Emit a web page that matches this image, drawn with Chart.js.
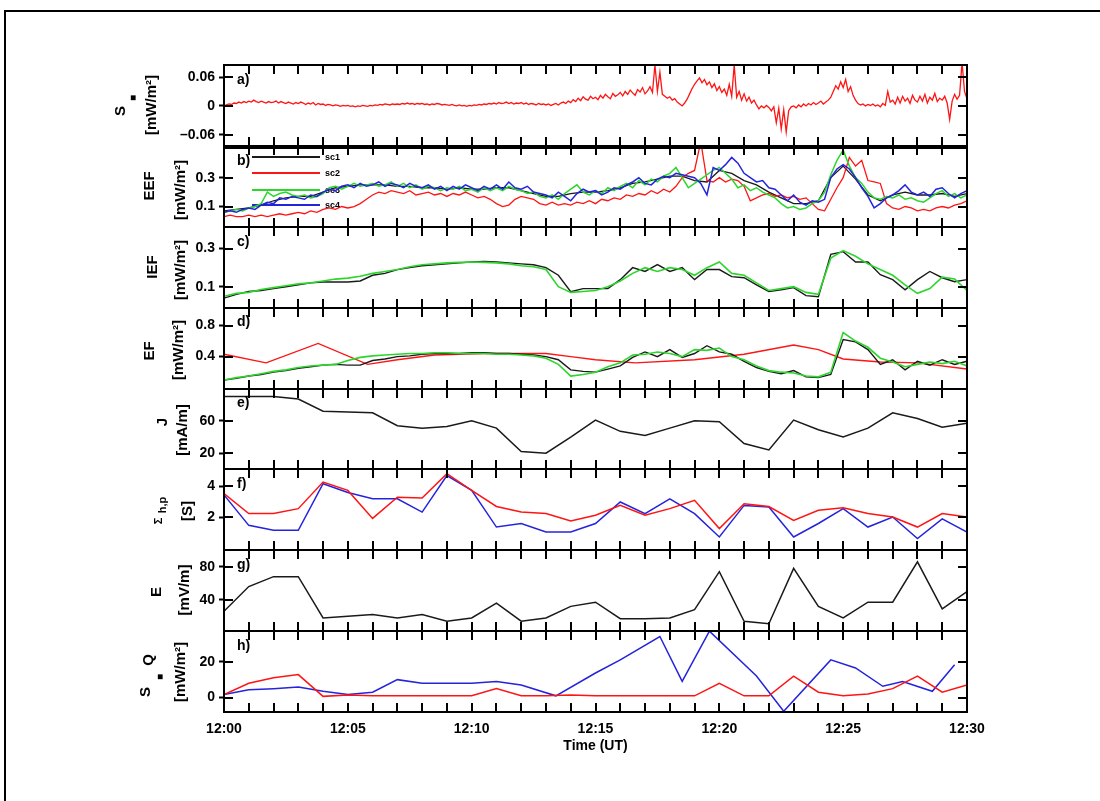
<!DOCTYPE html>
<html>
<head>
<meta charset="utf-8">
<script src="https://cdn.jsdelivr.net/npm/chart.js@4.4.1/dist/chart.umd.min.js"></script>
<style>
  html, body { margin: 0; padding: 0; background: #fff; }
  #wrap { position: relative; width: 1100px; height: 801px; overflow: hidden; }
  #frame { position: absolute; left: 4px; top: 10px; width: 1200px; height: 900px; border-top: 2px solid #000; border-left: 2px solid #000; }
  #chart, #ticks { position: absolute; left: 0; top: 0; }
  #ticks { pointer-events: none; }
</style>
</head>
<body>
<div id="wrap">
  <div id="frame"></div>
  <canvas id="chart" width="1100" height="801"></canvas>
  <canvas id="ticks" width="1100" height="801"></canvas>
</div>
<script>
// time axis (minutes after 12:00)
const timeTickValues = [0, 5, 10, 15, 20, 25, 30]
const timeTickLabels = ['12:00', '12:05', '12:10', '12:15', '12:20', '12:25', '12:30']

// a) field-aligned Poynting flux, one sample every 0.1 min
const A_STEP = 0.1
const poyntingA = [
  0.000, 0.002, 0.004, 0.003, 0.006, 0.005, 0.008, 0.006, 0.009, 0.007,
  0.010, 0.008, 0.012, 0.009, 0.007, 0.010, 0.008, 0.006, 0.009, 0.007,
  0.008, 0.010, 0.006, 0.009, 0.007, 0.005, 0.008, 0.006, 0.004, 0.007,
  0.005, 0.008, 0.006, 0.003, 0.006, 0.004, 0.007, 0.002, 0.005, 0.003,
  0.004, 0.001, 0.003, 0.002, 0.000, 0.002, 0.001, -0.001, 0.001, 0.000,
  0.001, -0.001, 0.000, -0.002, 0.000, -0.001, 0.001, 0.000, -0.001, 0.001,
  0.000, 0.002, 0.001, 0.003, 0.002, 0.004, 0.003, 0.002, 0.004, 0.003,
  0.004, 0.003, 0.005, 0.004, 0.006, 0.004, 0.005, 0.003, 0.005, 0.004,
  0.005, 0.003, 0.004, 0.002, 0.004, 0.003, 0.005, 0.004, 0.002, 0.003,
  0.002, 0.001, 0.003, 0.001, 0.000, 0.002, 0.000, 0.001, -0.001, 0.001,
  0.000, 0.002, 0.001, 0.003, 0.002, 0.004, 0.003, 0.005, 0.004, 0.006,
  0.004, 0.007, 0.005, 0.006, 0.008, 0.005, 0.007, 0.004, 0.006, 0.005,
  0.007, 0.004, 0.006, 0.003, 0.005, 0.004, 0.002, 0.005, 0.003, 0.004,
  0.002, 0.004, 0.001, 0.003, 0.005, 0.002, 0.006, 0.008, 0.005, 0.010,
  0.007, 0.013, 0.009, 0.016, 0.011, 0.019, 0.014, 0.012, 0.020, 0.015,
  0.018, 0.013, 0.022, 0.016, 0.024, 0.019, 0.015, 0.026, 0.020, 0.023,
  0.028, 0.021, 0.030, 0.024, 0.033, 0.027, 0.022, 0.034, 0.029, 0.038,
  0.025, 0.031, 0.040, 0.028, 0.085, 0.030, 0.070, 0.024, 0.020, 0.016,
  0.019, 0.012, 0.015, 0.008, 0.004, 0.000, 0.006, 0.014, 0.025, 0.036,
  0.045, 0.052, 0.058, 0.048, 0.055, 0.044, 0.050, 0.038, 0.046, 0.032,
  0.040, 0.028, 0.035, 0.022, 0.045, 0.020, 0.085, 0.018, 0.030, 0.012,
  0.025, 0.010, 0.018, 0.006, 0.012, 0.002, -0.006, 0.000, -0.004, 0.001,
  -0.003, -0.010, -0.002, -0.035, -0.005, -0.048, -0.008, -0.054, -0.010, -0.002,
  0.000, -0.004, 0.002, -0.002, 0.004, 0.000, 0.005, 0.002, 0.007, 0.003,
  0.006, 0.010, 0.004, 0.008, 0.012, 0.018, 0.030, 0.042, 0.035, 0.050,
  0.038, 0.055, 0.030, 0.040, 0.022, 0.012, 0.005, 0.002, 0.004, 0.000,
  0.003, 0.001, 0.004, 0.000, 0.002, -0.002, 0.005, 0.001, 0.030, 0.008,
  0.012, 0.004, 0.018, 0.006, 0.020, 0.010, 0.016, 0.005, 0.022, 0.012,
  0.008, 0.020, 0.010, 0.024, 0.006, 0.018, 0.012, 0.026, 0.009, 0.016,
  0.012, 0.020, 0.006, -0.028, 0.010, 0.024, 0.014, 0.022, 0.090, 0.030,
  0.015
]

// b) EEF for sc1..sc4
const B_STEP = 0.25
const eefSc2 = [
  0.03, 0.04, 0.03, 0.03, 0.04, 0.03, 0.04, 0.03, 0.04, 0.05, 0.04, 0.05,
  0.06, 0.05, 0.07, 0.06, 0.08, 0.09, 0.08, 0.10, 0.09, 0.10, 0.12, 0.15,
  0.18, 0.20, 0.19, 0.21, 0.20, 0.19, 0.21, 0.18, 0.19, 0.20, 0.18, 0.19,
  0.17, 0.19, 0.18, 0.20, 0.18, 0.16, 0.17, 0.15, 0.12, 0.10, 0.11, 0.15,
  0.17, 0.16, 0.15, 0.12, 0.11, 0.13, 0.11, 0.12, 0.11, 0.13, 0.12, 0.14,
  0.12, 0.15, 0.14, 0.16, 0.15, 0.18, 0.17, 0.19, 0.18, 0.21, 0.19, 0.22,
  0.20, 0.24, 0.30, 0.33, 0.35, 0.55, 0.28, 0.27, 0.30, 0.27, 0.29, 0.28,
  0.24, 0.14, 0.16, 0.18, 0.19, 0.17, 0.18, 0.16, 0.17, 0.15, 0.16, 0.12,
  0.08, 0.07, 0.15, 0.23, 0.30, 0.44, 0.38, 0.42, 0.28, 0.27, 0.26, 0.12,
  0.09, 0.08, 0.10, 0.09, 0.07, 0.08, 0.07, 0.09, 0.10, 0.09, 0.11, 0.12,
  0.14
]
const eefSc3 = [
  0.06, 0.07, 0.08, 0.07, 0.09, 0.10, 0.12, 0.20, 0.17, 0.19, 0.20, 0.18,
  0.17, 0.18, 0.16, 0.17, 0.19, 0.23, 0.24, 0.22, 0.24, 0.26, 0.24, 0.25,
  0.26, 0.24, 0.25, 0.27, 0.24, 0.26, 0.23, 0.25, 0.22, 0.24, 0.23, 0.21,
  0.23, 0.22, 0.24, 0.21, 0.22, 0.20, 0.23, 0.21, 0.23, 0.21, 0.24, 0.22,
  0.21, 0.19, 0.20, 0.17, 0.16, 0.18, 0.15, 0.19, 0.22, 0.25, 0.20, 0.18,
  0.21, 0.19, 0.23, 0.21, 0.24, 0.26, 0.23, 0.28, 0.25, 0.29, 0.27, 0.31,
  0.33, 0.37, 0.30, 0.23, 0.26, 0.29, 0.32, 0.35, 0.37, 0.33, 0.29, 0.23,
  0.25, 0.21, 0.23, 0.20, 0.18, 0.16, 0.12, 0.09, 0.10, 0.08, 0.09, 0.12,
  0.14, 0.20, 0.32, 0.42, 0.49, 0.38, 0.30, 0.26, 0.20, 0.16, 0.15, 0.17,
  0.16, 0.18, 0.15, 0.16, 0.14, 0.13, 0.16, 0.19, 0.21, 0.17, 0.19, 0.16,
  0.18
]
const eefSc4 = [
  0.06, 0.07, 0.06, 0.08, 0.09, 0.08, 0.11, 0.13, 0.12, 0.16, 0.15, 0.17,
  0.16, 0.15, 0.18, 0.17, 0.20, 0.22, 0.21, 0.24, 0.25, 0.23, 0.26, 0.24,
  0.25, 0.27, 0.24, 0.26, 0.25, 0.23, 0.26, 0.24, 0.23, 0.25, 0.22, 0.24,
  0.21, 0.24, 0.22, 0.25, 0.23, 0.21, 0.24, 0.22, 0.25, 0.22, 0.27, 0.23,
  0.22, 0.24, 0.20, 0.19, 0.18, 0.16, 0.20, 0.17, 0.14, 0.19, 0.22, 0.20,
  0.21, 0.18, 0.20, 0.23, 0.22, 0.25, 0.27, 0.30, 0.26, 0.25, 0.29, 0.31,
  0.30, 0.33, 0.32, 0.31, 0.30, 0.26, 0.18, 0.37, 0.35, 0.39, 0.44, 0.40,
  0.33, 0.30, 0.27, 0.28, 0.23, 0.22, 0.18, 0.14, 0.18, 0.13, 0.11, 0.14,
  0.13, 0.15, 0.30, 0.36, 0.39, 0.36, 0.30, 0.23, 0.17, 0.09, 0.12, 0.16,
  0.18, 0.21, 0.25, 0.20, 0.18, 0.20, 0.17, 0.22, 0.23, 0.19, 0.16, 0.19,
  0.21
]
const HALF_STEP = 0.5
const eefSc1 = [
  0.07, 0.08, 0.09, 0.11, 0.14, 0.16, 0.17, 0.17, 0.20, 0.23, 0.24, 0.25,
  0.25, 0.25, 0.24, 0.24, 0.23, 0.23, 0.22, 0.23, 0.22, 0.22, 0.23, 0.23,
  0.21, 0.19, 0.17, 0.17, 0.19, 0.20, 0.20, 0.21, 0.23, 0.26, 0.27, 0.29,
  0.31, 0.31, 0.28, 0.27, 0.35, 0.33, 0.28, 0.25, 0.20, 0.16, 0.12, 0.12,
  0.14, 0.30, 0.38, 0.29, 0.18, 0.14, 0.18, 0.20, 0.18, 0.18, 0.19, 0.17,
  0.19
]

// c) IEF, d) EF (every 0.5 min)
const iefSc1 = [
  0.04, 0.06, 0.075, 0.08, 0.09, 0.10, 0.11, 0.12, 0.125, 0.125, 0.125, 0.13,
  0.16, 0.17, 0.19, 0.20, 0.21, 0.215, 0.22, 0.225, 0.23, 0.232, 0.23, 0.225,
  0.22, 0.215, 0.20, 0.16, 0.074, 0.09, 0.09, 0.09, 0.137, 0.2, 0.18, 0.216,
  0.18, 0.2, 0.137, 0.19, 0.19, 0.153, 0.147, 0.11, 0.074, 0.084, 0.095, 0.053,
  0.047, 0.27, 0.284, 0.23, 0.23, 0.163, 0.137, 0.084, 0.137, 0.18, 0.147, 0.126,
  0.137
]
const iefSc3 = [
  0.05, 0.065, 0.07, 0.085, 0.095, 0.105, 0.115, 0.12, 0.13, 0.14, 0.145, 0.155,
  0.17, 0.18, 0.19, 0.205, 0.215, 0.22, 0.225, 0.228, 0.23, 0.228, 0.225, 0.22,
  0.21, 0.205, 0.19, 0.1, 0.07, 0.075, 0.08, 0.1, 0.13, 0.17, 0.2, 0.18,
  0.2, 0.19, 0.16, 0.2, 0.23, 0.17, 0.16, 0.12, 0.08, 0.09, 0.1, 0.07,
  0.06, 0.25, 0.29, 0.26, 0.22, 0.19, 0.16, 0.11, 0.065, 0.09, 0.15, 0.14,
  0.08
]
const efSc1 = [
  0.10, 0.12, 0.15, 0.17, 0.20, 0.22, 0.25, 0.27, 0.29, 0.30, 0.29, 0.29,
  0.35, 0.37, 0.40, 0.41, 0.43, 0.44, 0.44, 0.44, 0.45, 0.45, 0.44, 0.44,
  0.43, 0.42, 0.40, 0.36, 0.23, 0.21, 0.20, 0.24, 0.28, 0.39, 0.46, 0.40,
  0.49, 0.39, 0.44, 0.54, 0.46, 0.43, 0.34, 0.26, 0.21, 0.18, 0.22, 0.14,
  0.13, 0.17, 0.62, 0.59, 0.49, 0.30, 0.36, 0.23, 0.34, 0.29, 0.36, 0.30,
  0.34
]
const efSc3 = [
  0.10, 0.13, 0.15, 0.18, 0.21, 0.23, 0.26, 0.28, 0.29, 0.30, 0.35, 0.39,
  0.41, 0.42, 0.43, 0.44, 0.44, 0.45, 0.45, 0.44, 0.44, 0.44, 0.43, 0.43,
  0.42, 0.41, 0.38, 0.30, 0.15, 0.17, 0.20, 0.27, 0.32, 0.42, 0.43, 0.46,
  0.44, 0.40, 0.49, 0.48, 0.51, 0.40, 0.36, 0.28, 0.22, 0.20, 0.19, 0.15,
  0.14, 0.20, 0.71, 0.60, 0.52, 0.38, 0.33, 0.27, 0.30, 0.33, 0.31, 0.34,
  0.28
]
const efModelTimes = [0, 1.7, 3.8, 5.8, 7, 8.5, 10.5, 13, 14, 15, 16.6, 19, 21, 23, 24, 25, 26.5, 28, 30]
const efModel = [0.43, 0.32, 0.57, 0.30, 0.36, 0.42, 0.44, 0.44, 0.40, 0.36, 0.32, 0.36, 0.43, 0.55, 0.49, 0.37, 0.33, 0.32, 0.24]

// e) - h) one value per minute unless times given
const MIN_STEP = 1
const currentJ = [90, 90, 90, 87, 72, 71, 70, 54, 51, 53, 60, 51, 22, 20, 40, 61, 47, 42, 51, 60, 59, 32, 24, 61, 49, 40, 51, 70, 63, 52, 57]
const sigmaP = [3.53, 2.24, 2.24, 2.56, 4.28, 3.74, 1.93, 3.3, 3.25, 4.82, 3.74, 2.7, 2.34, 2.24, 1.76, 2.13, 2.77, 2.13, 2.56, 3.1, 1.27, 2.88, 2.7, 1.8, 2.45, 2.62, 2.24, 2.02, 1.37, 2.24, 2.02]
const sigmaH = [3.45, 1.48, 1.16, 1.16, 4.17, 3.6, 3.2, 3.2, 2.34, 4.7, 3.74, 1.37, 1.6, 1.05, 1.05, 1.6, 2.99, 2.24, 3.2, 2.24, 0.73, 2.77, 2.67, 0.73, 1.6, 2.56, 1.37, 2.02, 0.63, 1.9, 1.05]
const fieldE = [26, 56, 68, 68, 18, 20, 22, 18, 22, 14, 18, 36, 14, 18, 32, 37, 17, 17, 18, 28, 74, 14, 11, 78, 32, 18, 37, 37, 86, 29, 50]
const jouleRed = [1.7, 8, 11, 12.8, 0.7, 1.5, 1, 1, 1, 1, 1, 5, 1, 1, 1.5, 1, 1, 1, 1, 1, 8, 1, 1, 12, 3, 1, 2, 5, 12, 3, 7]
const poyntingQTimes = [0, 1, 2, 3, 4, 5, 6, 7, 8, 9, 10, 11, 12, 13.4, 15, 16, 17.6, 18.5, 19.6, 21.5, 22.6, 24.5, 25.5, 26.6, 27.4, 28.6, 29.5]
const poyntingQ = [1.7, 4.4, 5, 5.9, 3.5, 1.7, 3, 10, 8, 8, 8, 9, 7, 1, 13.7, 21, 34, 9, 37, 12, -7.6, 21, 16.5, 6.3, 9, 3.5, 18.3]

// tick values and labels per panel
const aTicks = [0.06, 0, -0.06], aTickLabels = ['0.06', '0', '\u20130.06']
const bTicks = [0.3, 0.1], bTickLabels = ['0.3', '0.1']
const cTicks = [0.3, 0.1], cTickLabels = ['0.3', '0.1']
const dTicks = [0.8, 0.4], dTickLabels = ['0.8', '0.4']
const eTicks = [60, 20], eTickLabels = ['60', '20']
const fTicks = [4, 2], fTickLabels = ['4', '2']
const gTicks = [80, 40], gTickLabels = ['80', '40']
const hTicks = [20, 0], hTickLabels = ['20', '0']

const legendNames = ['sc1', 'sc2', 'sc3', 'sc4']

const RED = '#ff1414'
const BLUE = '#2424dc'
const GREEN = '#2cd62c'
const BLACK = '#1a1a1a'
const FONT = '"Liberation Sans", Arial, sans-serif'

const gridSeries = (vals, step) => vals.map((v, i) => ({ x: i * step, y: v }))
const pairSeries = (ts, vals) => ts.map((t, i) => ({ x: t, y: vals[i] }))

const panels = [
  { id: 'ya', min: -0.083, max: 0.085, tickVals: aTicks, labels: aTickLabels, letter: 'a)' },
  { id: 'yb', min: -0.04, max: 0.52, tickVals: bTicks, labels: bTickLabels, letter: 'b)' },
  { id: 'yc', min: -0.01, max: 0.415, tickVals: cTicks, labels: cTickLabels, letter: 'c)' },
  { id: 'yd', min: -0.01, max: 1.03, tickVals: dTicks, labels: dTickLabels, letter: 'd)' },
  { id: 'ye', min: 0, max: 100, tickVals: eTicks, labels: eTickLabels, letter: 'e)' },
  { id: 'yf', min: -0.13, max: 5.1, tickVals: fTicks, labels: fTickLabels, letter: 'f)' },
  { id: 'yg', min: 2, max: 100, tickVals: gTicks, labels: gTickLabels, letter: 'g)' },
  { id: 'yh', min: -8, max: 37, tickVals: hTicks, labels: hTickLabels, letter: 'h)' }
]

// rotated axis titles: [text, x, y, size]
const axisTitles = [
  ['S', 121, 111, 15], ['\u25A0', 133, 98, 10], ['[mW/m\u00B2]', 152, 105, 15],
  ['EEF', 150, 186, 15], ['[mW/m\u00B2]', 181, 190, 15],
  ['IEF', 153, 267, 15], ['[mW/m\u00B2]', 181, 270, 15],
  ['EF', 150, 351, 15], ['[mW/m\u00B2]', 179, 350, 15],
  ['J', 163, 422, 15], ['[mA/m]', 183, 430, 15],
  ['\u03A3', 159, 521, 11], ['h,p', 163, 505, 11], ['[S]', 188, 511, 15],
  ['E', 157, 592, 15], ['[mV/m]', 185, 590, 15],
  ['S', 146, 692, 15], ['\u25A0', 160, 677, 10], ['Q', 149, 660, 15], ['[mW/m\u00B2]', 181, 672, 15]
]

const series = (yAxisID, data, color, width, order) => ({
  yAxisID, data, borderColor: color, borderWidth: width, pointRadius: 0, tension: 0, fill: false, order
})

const datasets = [
  series('ya', gridSeries(poyntingA, A_STEP), RED, 1.3, 0),
  series('yb', gridSeries(eefSc4, B_STEP), BLUE, 1.5, 0),
  series('yb', gridSeries(eefSc3, B_STEP), GREEN, 1.5, 1),
  series('yb', gridSeries(eefSc2, B_STEP), RED, 1.3, 2),
  series('yb', gridSeries(eefSc1, HALF_STEP), BLACK, 1.3, 3),
  series('yc', gridSeries(iefSc3, HALF_STEP), GREEN, 1.6, 0),
  series('yc', gridSeries(iefSc1, HALF_STEP), BLACK, 1.4, 1),
  series('yd', pairSeries(efModelTimes, efModel), RED, 1.4, 2),
  series('yd', gridSeries(efSc3, HALF_STEP), GREEN, 1.6, 0),
  series('yd', gridSeries(efSc1, HALF_STEP), BLACK, 1.4, 1),
  series('ye', gridSeries(currentJ, MIN_STEP), BLACK, 1.5, 0),
  series('yf', gridSeries(sigmaP, MIN_STEP), RED, 1.5, 0),
  series('yf', gridSeries(sigmaH, MIN_STEP), BLUE, 1.5, 1),
  series('yg', gridSeries(fieldE, MIN_STEP), BLACK, 1.5, 0),
  series('yh', gridSeries(jouleRed, MIN_STEP), RED, 1.5, 0),
  series('yh', pairSeries(poyntingQTimes, poyntingQ), BLUE, 1.5, 1)
]

const scales = {
  x: {
    type: 'linear', position: 'bottom', min: 0, max: 30,
    grid: { display: false, drawTicks: false }, border: { display: false },
    afterBuildTicks: s => { s.ticks = timeTickValues.map(v => ({ value: v })) },
    afterFit: s => { s.height = 89 },
    ticks: { padding: 9, color: '#000', maxRotation: 0, autoSkip: false,
      font: { family: FONT, size: 14, weight: 'bold' }, callback: (v, i) => timeTickLabels[i] },
    title: { display: true, text: 'Time (UT)', color: '#000',
      font: { family: FONT, size: 14, weight: 'bold' }, padding: { top: 0, bottom: 46 } }
  }
}
panels.forEach((p, i) => {
  scales[p.id] = {
    type: 'linear', position: 'left', stack: 'panels', stackWeight: 1, weight: 8 - i,
    min: p.min, max: p.max,
    // library tick marks on the outer side of each value label
    grid: { display: true, drawOnChartArea: false, drawTicks: true, tickLength: 5, tickWidth: 2, tickColor: '#000', color: '#000' },
    border: { display: false },
    afterBuildTicks: s => { s.ticks = p.tickVals.map(v => ({ value: v })) },
    afterFit: s => { s.width = 224 },
    ticks: { padding: 4, color: '#000', autoSkip: false,
      font: { family: FONT, size: 14, weight: 'bold' }, callback: (v, k) => p.labels[k] }
  }
})

// tick marks along the panel frames
const drawTickMarks = (chart, ctx) => {
  const left = Math.round(chart.chartArea.left)
  const right = Math.round(chart.chartArea.right)
  const xs = chart.scales.x
  ctx.fillStyle = '#000'
  panels.forEach(p => {
    const s = chart.scales[p.id]
    const top = Math.round(s.top)
    const bottom = Math.round(s.bottom)
    for (let m = 1; m < 30; m++) {
      const px = Math.round(xs.getPixelForValue(m))
      ctx.fillRect(px - 1, top, 2, 9)
      ctx.fillRect(px - 1, bottom - 9, 2, 9)
    }
    p.tickVals.forEach(v => {
      const py = Math.round(s.getPixelForValue(v))
      ctx.fillRect(left, py - 1, 9, 2)
      ctx.fillRect(right - 9, py - 1, 9, 2)
    })
  })
}

const panelDecor = {
  id: 'panelDecor',
  beforeDatasetsDraw (chart) {
    // legend of panel b, data is drawn over it
    const { ctx } = chart
    const s = chart.scales.yb
    const colors = [BLACK, RED, GREEN, BLUE]
    const offs = [11, 27, 44, 59]
    ctx.save()
    ctx.font = 'bold 9px ' + FONT
    ctx.textBaseline = 'middle'
    legendNames.forEach((name, i) => {
      const y = Math.round(s.top + offs[i])
      ctx.fillStyle = colors[i]
      ctx.fillRect(252, y - 1, 68, 2)
      ctx.fillStyle = '#000'
      ctx.fillText(name, 325, y + 1)
    })
    ctx.restore()
  },
  afterDraw (chart) {
    const { ctx } = chart
    const left = Math.round(chart.chartArea.left)
    const right = Math.round(chart.chartArea.right)
    ctx.save()
    drawTickMarks(chart, ctx)
    ctx.fillStyle = '#000'
    panels.forEach(p => {
      const s = chart.scales[p.id]
      const top = Math.round(s.top)
      const bottom = Math.round(s.bottom)
      ctx.fillRect(left - 1, top - 1, right - left + 2, 2)
      ctx.fillRect(left - 1, bottom - 1, right - left + 2, 2)
      ctx.fillRect(left - 1, top - 1, 2, bottom - top + 2)
      ctx.fillRect(right - 1, top - 1, 2, bottom - top + 2)
    })
    // heavier separator between a) and b)
    ctx.fillRect(left - 1, Math.round(chart.scales.yb.top) - 1, right - left + 2, 4)
    ctx.font = 'bold 14px ' + FONT
    ctx.textAlign = 'left'
    ctx.textBaseline = 'middle'
    panels.forEach(p => {
      ctx.fillText(p.letter, 237, chart.scales[p.id].top + 15)
    })
    axisTitles.forEach(([txt, x, y, size]) => {
      ctx.save()
      ctx.translate(x, y)
      ctx.rotate(-Math.PI / 2)
      ctx.font = 'bold ' + size + 'px ' + FONT
      ctx.textAlign = 'center'
      ctx.textBaseline = 'middle'
      ctx.fillText(txt, 0, 0)
      ctx.restore()
    })
    ctx.restore()
    const over = document.getElementById('ticks').getContext('2d')
    over.clearRect(0, 0, 1100, 801)
    drawTickMarks(chart, over)
  }
}

new Chart(document.getElementById('chart').getContext('2d'), {
  type: 'line',
  data: { datasets },
  options: {
    responsive: false,
    animation: false,
    events: [],
    layout: { padding: { top: 65, right: 133, bottom: 0, left: 0 } },
    plugins: { legend: { display: false }, tooltip: { enabled: false } },
    scales
  },
  plugins: [panelDecor]
})
</script>
</body>
</html>
